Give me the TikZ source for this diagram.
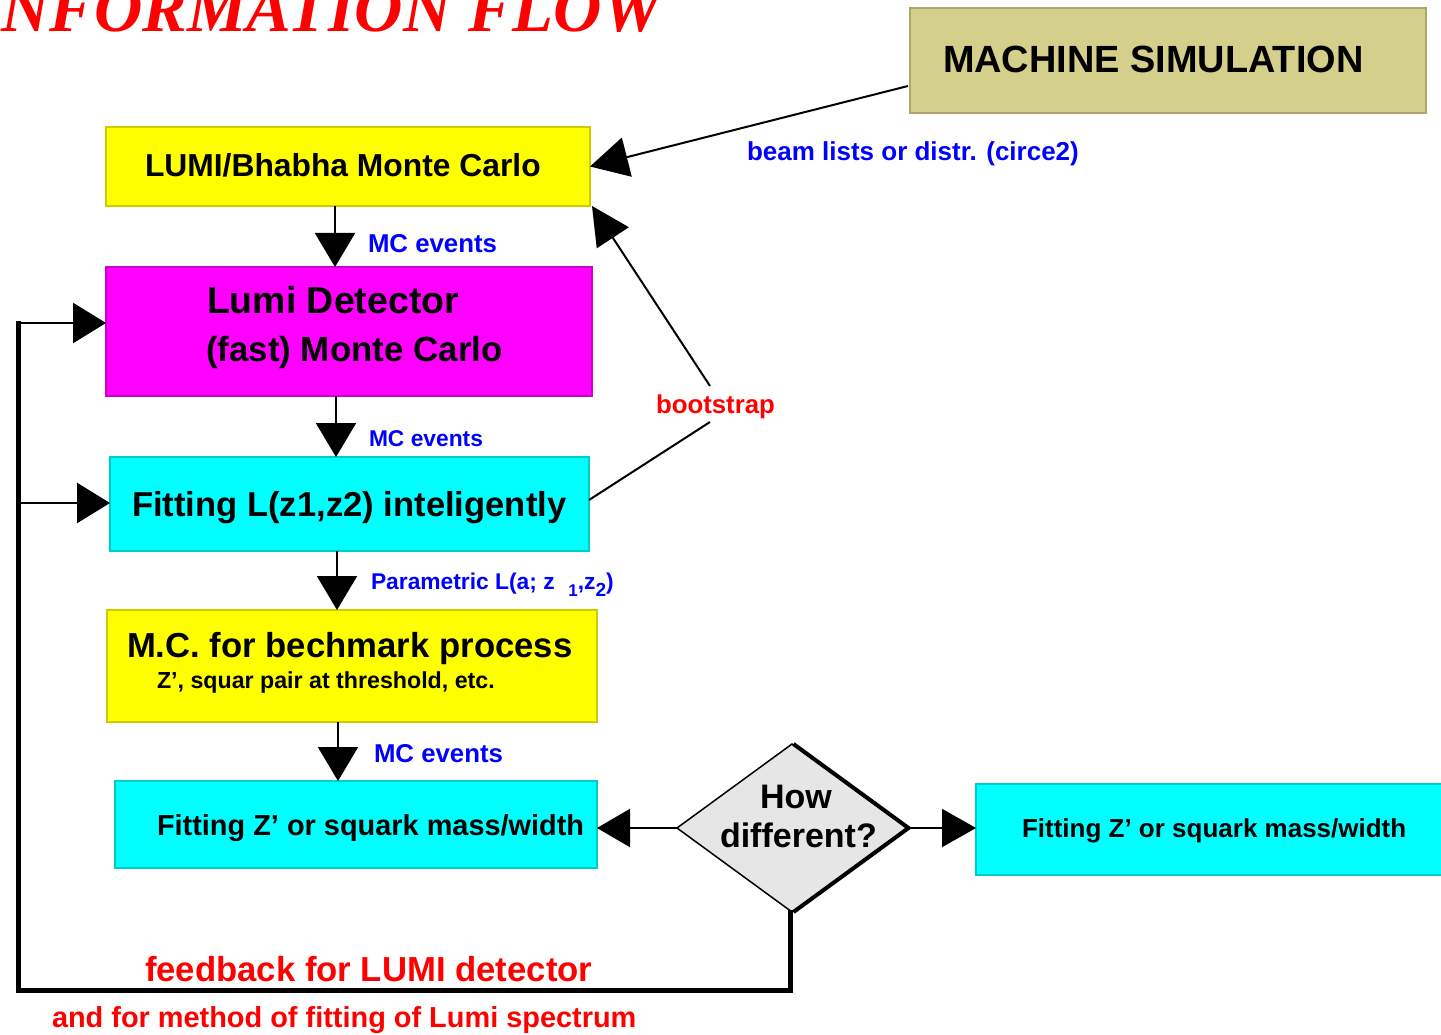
\documentclass[tikz,border=0pt]{standalone}
\usepackage{fontspec}
\setmainfont{Liberation Sans}
\newfontfamily\titlefont{Liberation Serif}
\usetikzlibrary{arrows.meta,shapes.geometric}
\definecolor{khaki}{RGB}{212,207,138}
\definecolor{cyanbox}{RGB}{0,255,255}
\definecolor{magbox}{RGB}{255,0,255}
\definecolor{yelbox}{RGB}{255,255,0}
\definecolor{diagray}{RGB}{230,230,230}
\definecolor{lblue}{RGB}{0,0,255}
\definecolor{lred}{RGB}{255,0,0}
\newcommand\myfs[1]{\fontsize{#1}{#1}\selectfont}
\begin{document}
\begin{tikzpicture}[x=1pt,y=-1pt,
  box/.style={rectangle,inner sep=0pt,outer sep=0pt,line width=1.2pt,fill=#1,draw=#1!80!black},
  txt/.style={anchor=base west,inner sep=0pt,outer sep=0pt,font=\bfseries},
  arr/.style={line width=2pt,-{Triangle[length=34pt,width=40pt]}},
  fb/.style={line width=5pt,line cap=rect},
  fbarr/.style={line width=2.5pt,-{Triangle[length=33pt,width=40pt]}}]
\useasboundingbox (0,0) rectangle (1441,1035);

% title
\node[txt,anchor=base west,text=lred,font=\titlefont\bfseries\itshape\myfs{67}] (title) at (-25,32) {INFORMATION FLOW};

% boxes
\node[box=khaki,minimum width=516pt,minimum height=105pt] (mach) at (1168,60.5) {};
\node[box=yelbox,minimum width=484pt,minimum height=79pt] (lumi) at (348,166.5) {};
\node[box=magbox,minimum width=486pt,minimum height=129pt] (det) at (349,331.5) {};
\node[box=cyanbox,minimum width=479pt,minimum height=94pt] (fit) at (349.5,504) {};
\node[box=yelbox,minimum width=490pt,minimum height=112pt] (mc) at (352,666) {};
\node[box=cyanbox,minimum width=482pt,minimum height=87pt] (zl) at (356,824.5) {};
\node[box=cyanbox,minimum width=468pt,minimum height=91pt] (zr) at (1210,829.5) {};
\node[diamond,fill=diagray,draw=black,line width=1.5pt,inner sep=0pt,outer sep=0pt,
      minimum width=230pt,minimum height=168pt] (dia) at (792,828) {};
\draw[line width=4pt] ([xshift=1.5pt]dia.north) -- ([xshift=1.5pt]dia.east) -- ([xshift=1.5pt]dia.south);

% box texts
\node[txt,font=\bfseries\myfs{37.9}] (macht) at (943,73) {MACHINE SIMULATION};
\node[txt,font=\bfseries\myfs{31.8}] (lumit) at (145,177) {LUMI/Bhabha Monte Carlo};
\node[txt,font=\bfseries\myfs{37.5}] (dett1) at (207,313) {Lumi Detector};
\node[txt,font=\bfseries\myfs{34.9}] (dett2) at (206,361) {(fast) Monte Carlo};
\node[txt,font=\bfseries\myfs{34.6}] (fitt) at (132,516) {Fitting L(z1,z2) inteligently};
\node[txt,font=\bfseries\myfs{34.7}] (mct1) at (127,657) {M.C. for bechmark process};
\node[txt,font=\bfseries\myfs{23.2}] (mct2) at (157,688) {Z’, squar pair at threshold, etc.};
\node[txt,font=\bfseries\myfs{28.9}] (zlt) at (157,835) {Fitting Z’ or squark mass/width};
\node[txt,font=\bfseries\myfs{26}] (zrt) at (1022,837) {Fitting Z’ or squark mass/width};
\node[txt,font=\bfseries\myfs{34}] (diat1) at (760,808) {How};
\node[txt,font=\bfseries\myfs{34}] (diat2) at (720,847) {different?};

% connector x positions
\coordinate (a1) at (335,0);
\coordinate (a2) at (336,0);
\coordinate (a3) at (337,0);
\coordinate (a4) at (338,0);
\draw[arr] (lumi.south -| a1) -- (det.north -| a1);
\draw[arr] (det.south -| a2) -- (fit.north -| a2);
\draw[arr] (fit.south -| a3) -- (mc.north -| a3);
\draw[arr] (mc.south -| a4) -- (zl.north -| a4);

% labels on vertical arrows
\node[txt,text=lblue,font=\bfseries\myfs{25.8}] (l1) at (368,253) {MC events};
\node[txt,text=lblue,font=\bfseries\myfs{22.8}] (l2) at (369,446) {MC events};
\node[txt,text=lblue,font=\bfseries\myfs{22.8}] (l3) at (371,589) {Parametric L(a; z\hspace{0.6em}\raisebox{-0.35em}{\myfs{17}1},z\raisebox{-0.35em}{\myfs{19}2})};
\node[txt,text=lblue,font=\bfseries\myfs{25.8}] (l4) at (374,762) {MC events};

% machine -> lumi
\coordinate (ms) at (908,86);
\draw[line width=2pt,-{Triangle[length=38pt,width=40pt]}] (ms) -- (lumi.east);
\node[txt,text=lblue,font=\bfseries\myfs{26}] (beam) at (747,161) {beam lists or distr. (circe2)};

% bootstrap
\coordinate (bs1) at (710,422);
\coordinate (bs2) at (710,386);
\draw[line width=2pt] ([yshift=4pt]fit.east) -- (bs1);
\draw[line width=2pt,-{Triangle[length=38pt,width=38pt]}] (bs2) -- ([xshift=2pt]lumi.south east);
\node[txt,text=lred,font=\bfseries\myfs{25.8}] (boot) at (656,413) {bootstrap};

% diamond outputs
\draw[line width=2pt,-{Triangle[length=33pt,width=38pt]}] (dia.west) -- (dia.west -| zl.east);
\draw[line width=2pt,-{Triangle[length=34pt,width=38pt]}] (dia.east) -- (dia.east -| zr.west);

% feedback loop
\coordinate (fbbot) at (18,990);
\coordinate (fbtop) at (18,323);
\coordinate (fbmid) at (18,503);
\draw[fb] ([xshift=-2pt]dia.south) -- ([xshift=-2pt]dia.south |- fbbot) -- (fbbot) -- (fbtop);
\draw[fbarr] (fbtop) -- (fbtop -| det.west);
\draw[fbarr] (fbmid) -- (fbmid -| fit.west);
\node[txt,text=lred,font=\bfseries\myfs{34.7}] (fb1) at (145,981) {feedback for LUMI detector};
\node[txt,text=lred,font=\bfseries\myfs{28.9}] (fb2) at (52,1027) {and for method of fitting of Lumi spectrum};
\end{tikzpicture}
\end{document}
